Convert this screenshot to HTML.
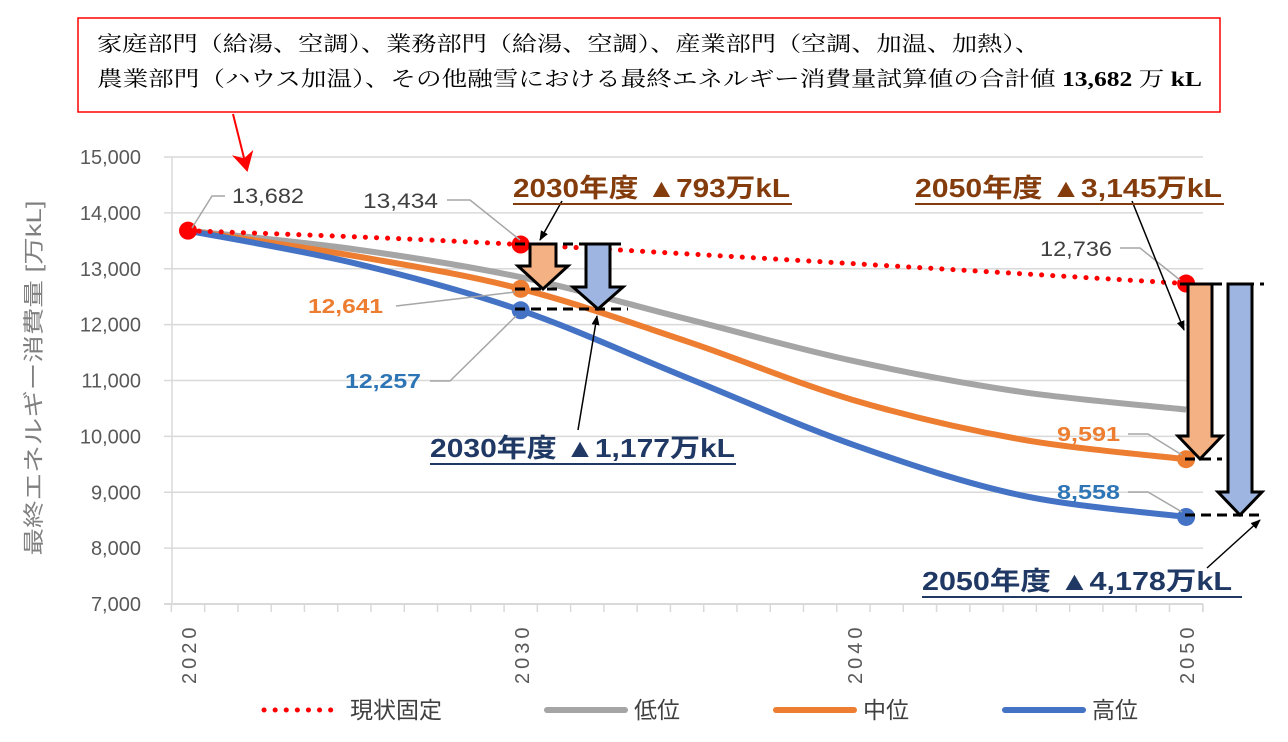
<!DOCTYPE html>
<html><head><meta charset="utf-8">
<style>
html,body{margin:0;padding:0;background:#fff;}
svg{display:block;font-family:"Liberation Sans","Noto Sans CJK JP",sans-serif;}
</style></head>
<body>
<svg id="s" width="1288" height="742" viewBox="0 0 1288 742" xmlns="http://www.w3.org/2000/svg">
<defs>
<marker id="ah" markerWidth="10" markerHeight="10" refX="9" refY="5" orient="auto" markerUnits="userSpaceOnUse"><path d="M0,1 L10,5 L0,9 Z" fill="#000"/></marker>
<marker id="rh" markerWidth="22" markerHeight="22" refX="18" refY="11" orient="auto" markerUnits="userSpaceOnUse"><path d="M0,0 L20,11 L0,22 L6,11 Z" fill="#f00"/></marker>
</defs>
<g id="grid" stroke="#d9d9d9" stroke-width="1.5"></g>
<line x1="172" y1="157" x2="172" y2="604" stroke="#d9d9d9" stroke-width="1.5"/>
<line x1="164" y1="604" x2="1203" y2="604" stroke="#d9d9d9" stroke-width="2"/>
<g id="ticks" stroke="#d9d9d9" stroke-width="1.5"></g>
<g id="ylab" font-size="20" fill="#595959" text-anchor="end"></g>
<text transform="translate(41,378) rotate(-90)" font-size="21" fill="#808080" text-anchor="middle" textLength="355" lengthAdjust="spacingAndGlyphs">最終エネルギー消費量 [万kL]</text>
<g font-size="20" fill="#595959" letter-spacing="4">
<text transform="translate(196,684) rotate(-90)">2020</text>
<text transform="translate(529,684) rotate(-90)">2030</text>
<text transform="translate(862,684) rotate(-90)">2040</text>
<text transform="translate(1194,684) rotate(-90)">2050</text>
</g>
<g id="series"></g>
<g stroke="#000" stroke-width="3" stroke-dasharray="10,6">
<line x1="515" y1="244" x2="625" y2="244"/>
<line x1="515" y1="289" x2="560" y2="289"/>
<line x1="515" y1="309" x2="628" y2="309"/>
<line x1="1180" y1="284" x2="1264" y2="284"/>
<line x1="1185" y1="459" x2="1222" y2="459"/>
<line x1="1185" y1="515" x2="1264" y2="515"/>
</g>
<g stroke="#000" stroke-width="3" stroke-linejoin="miter">
<path d="M530,244 L556,244 L556,266 L568,266 L543,289 L518,266 L530,266 Z" fill="#F4B183"/>
<path d="M586,244 L610,244 L610,287 L623,287 L598,309 L573,287 L586,287 Z" fill="#9DB5E0"/>
<path d="M1188,284 L1212,284 L1212,436 L1222,436 L1200,459 L1178,436 L1188,436 Z" fill="#F4B183"/>
<path d="M1228,284 L1252,284 L1252,492 L1262,492 L1240,515 L1218,492 L1228,492 Z" fill="#9DB5E0"/>
</g>
<g stroke="#a6a6a6" stroke-width="1.5" fill="none">
<polyline points="192,228 212,196 225,196"/>
<polyline points="447,200 470,200 520,240"/>
<polyline points="396,306 515,292"/>
<polyline points="430,381 450,381 516,316"/>
<polyline points="1120,248 1140,248 1180,280"/>
<polyline points="1128,434 1148,434 1182,455"/>
<polyline points="1128,492 1148,492 1182,512"/>
</g>
<g font-size="21" fill="#404040">
<text x="232" y="203" textLength="72" lengthAdjust="spacingAndGlyphs">13,682</text>
<text x="363" y="208" textLength="75" lengthAdjust="spacingAndGlyphs">13,434</text>
<text x="1040" y="256" textLength="72" lengthAdjust="spacingAndGlyphs">12,736</text>
</g>
<g font-size="20" font-weight="bold">
<text x="308" y="313" fill="#ED7D31" textLength="75" lengthAdjust="spacingAndGlyphs">12,641</text>
<text x="345" y="388" fill="#2E75B6" textLength="76" lengthAdjust="spacingAndGlyphs">12,257</text>
<text x="1057" y="441" fill="#ED7D31" textLength="63" lengthAdjust="spacingAndGlyphs">9,591</text>
<text x="1057" y="499" fill="#2E75B6" textLength="63" lengthAdjust="spacingAndGlyphs">8,558</text>
</g>
<g stroke="#000" stroke-width="1.5" marker-end="url(#ah)">
<line x1="562" y1="201" x2="540" y2="240"/>
<line x1="578" y1="430" x2="597" y2="316"/>
<line x1="1132" y1="201" x2="1184" y2="330"/>
<line x1="1207" y1="568" x2="1260" y2="520"/>
</g>
<g font-size="26" font-weight="bold">
<text x="513" y="197" fill="#843C0C" textLength="277" lengthAdjust="spacingAndGlyphs">2030年度 ▲793万kL</text>
<line x1="513" y1="204" x2="792" y2="204" stroke="#843C0C" stroke-width="2"/>
<text x="915" y="197" fill="#843C0C" textLength="307" lengthAdjust="spacingAndGlyphs">2050年度 ▲3,145万kL</text>
<line x1="915" y1="204" x2="1224" y2="204" stroke="#843C0C" stroke-width="2"/>
<text x="430" y="457" fill="#1F3864" textLength="305" lengthAdjust="spacingAndGlyphs">2030年度 ▲1,177万kL</text>
<line x1="430" y1="464" x2="736" y2="464" stroke="#1F3864" stroke-width="2"/>
<text x="922" y="590" fill="#1F3864" textLength="310" lengthAdjust="spacingAndGlyphs">2050年度 ▲4,178万kL</text>
<line x1="922" y1="597" x2="1242" y2="597" stroke="#1F3864" stroke-width="2"/>
</g>
<rect x="78" y="18" width="1142" height="94" fill="#fff" stroke="#f00" stroke-width="1.5"/>
<g font-family="'Liberation Serif','Noto Serif CJK SC',serif" font-size="21" fill="#000">
<text x="97" y="51" textLength="943" lengthAdjust="spacingAndGlyphs">家庭部門（給湯、空調）、業務部門（給湯、空調）、産業部門（空調、加温、加熱）、</text>
<text x="97" y="86" textLength="1105" lengthAdjust="spacingAndGlyphs">農業部門（ハウス加温）、その他融雪における最終エネルギー消費量試算値の合計値 <tspan font-weight="bold">13,682</tspan> 万 <tspan font-weight="bold">kL</tspan></text>
</g>
<line x1="233" y1="114" x2="247" y2="170" stroke="#f00" stroke-width="2" marker-end="url(#rh)"/>
<line x1="264" y1="710" x2="332" y2="710" stroke="#f00" stroke-width="5" stroke-dasharray="0.1,11" stroke-linecap="round"/>
<text x="350" y="718" font-size="23" fill="#404040">現状固定</text>
<line x1="547" y1="710" x2="625" y2="710" stroke="#a5a5a5" stroke-width="6" stroke-linecap="round"/>
<text x="634" y="718" font-size="23" fill="#404040">低位</text>
<line x1="776" y1="710" x2="854" y2="710" stroke="#ED7D31" stroke-width="6" stroke-linecap="round"/>
<text x="863" y="718" font-size="23" fill="#404040">中位</text>
<line x1="1005" y1="710" x2="1083" y2="710" stroke="#4472C4" stroke-width="6" stroke-linecap="round"/>
<text x="1092" y="718" font-size="23" fill="#404040">高位</text>
</svg>
<script>
var NS="http://www.w3.org/2000/svg";
function X(yr){return 188+(yr-2020)*33.27;}
function Y(v){return 604-(v-7000)*0.05587;}
function el(p,t,a){var e=document.createElementNS(NS,t);for(var k in a)e.setAttribute(k,a[k]);p.appendChild(e);return e;}
var g=document.getElementById("grid"),yl=document.getElementById("ylab"),tk=document.getElementById("ticks");
for(var v=7000;v<=15000;v+=1000){var y=Y(v);if(v>7000)el(g,"line",{x1:164,y1:y,x2:1203,y2:y});var t=el(yl,"text",{x:141,y:y+7});t.textContent=v.toLocaleString("en-US");}
for(var yr=2019.5;yr<=2050.6;yr+=1){var x=X(yr);el(tk,"line",{x1:x,y1:604,x2:x,y2:612});}
el(tk,"line",{x1:1203,y1:604,x2:1203,y2:612});
function path(pts){var p=pts.map(function(a){return [X(a[0]),Y(a[1])];});var d="M"+p[0][0]+","+p[0][1];
for(var i=0;i<p.length-1;i++){var p0=p[i-1]||p[i],p1=p[i],p2=p[i+1],p3=p[i+2]||p[i+1];
var c1=[p1[0]+(p2[0]-p0[0])/6,p1[1]+(p2[1]-p0[1])/6],c2=[p2[0]-(p3[0]-p1[0])/6,p2[1]-(p3[1]-p1[1])/6];
d+=" C"+c1+" "+c2+" "+p2;}return d;}
var s=document.getElementById("series");
el(s,"path",{d:path([[2020,13682],[2025,13350],[2030,12850],[2035,12100],[2040,11350],[2045,10800],[2050,10480]]),stroke:"#a5a5a5","stroke-width":6,fill:"none"});
el(s,"path",{d:path([[2020,13682],[2025,13230],[2030,12641],[2035,11700],[2040,10650],[2045,9950],[2050,9591]]),stroke:"#ED7D31","stroke-width":6,fill:"none"});
el(s,"path",{d:path([[2020,13682],[2025,13100],[2030,12257],[2035,11050],[2040,9850],[2045,8950],[2050,8558]]),stroke:"#4472C4","stroke-width":6,fill:"none"});
el(s,"path",{d:path([[2020,13682],[2030,13434],[2050,12736]]),stroke:"#f00","stroke-width":5,fill:"none","stroke-dasharray":"0.1,11","stroke-linecap":"round"});
[[2020,13682,"#f00"],[2030,13434,"#f00"],[2030,12641,"#ED7D31"],[2030,12257,"#4472C4"],[2050,12736,"#f00"],[2050,9591,"#ED7D31"],[2050,8558,"#4472C4"]].forEach(function(m){el(s,"circle",{cx:X(m[0]),cy:Y(m[1]),r:9,fill:m[2]});});
</script>
</body></html>
